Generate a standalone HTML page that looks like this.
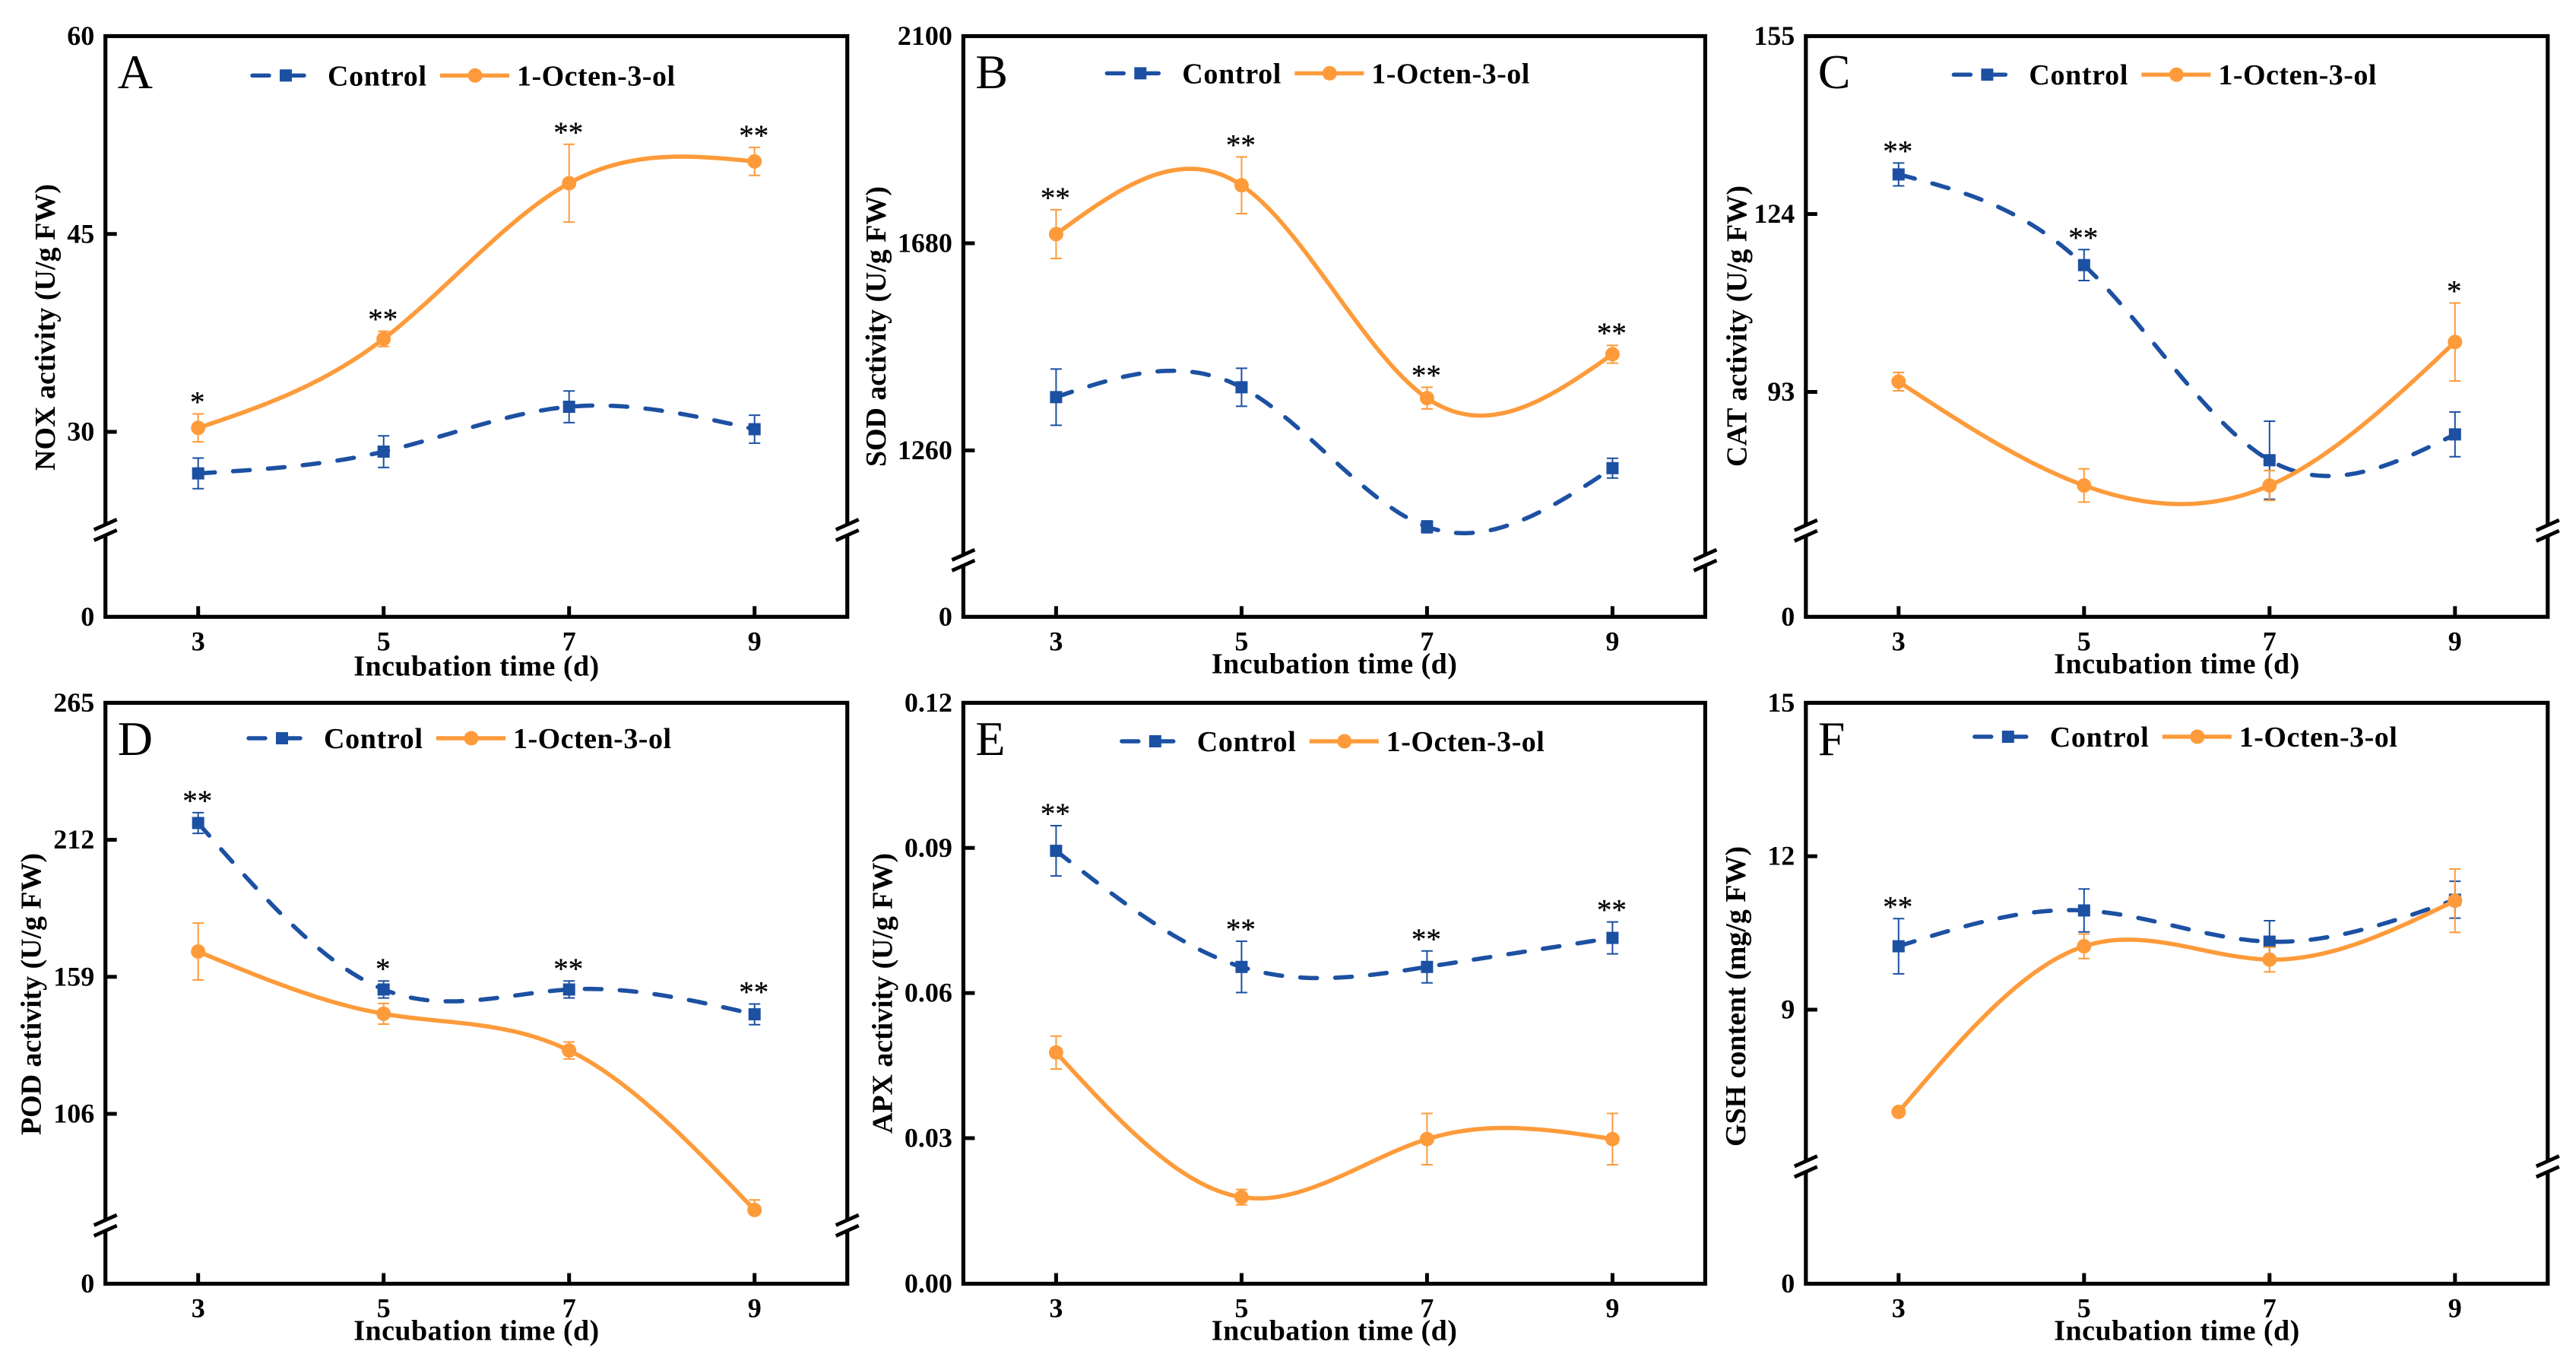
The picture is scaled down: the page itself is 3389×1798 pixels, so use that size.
<!DOCTYPE html>
<html lang="en">
<head>
<meta charset="utf-8">
<title>Antioxidant enzyme activity over incubation time</title>
<style>
html,body{margin:0;padding:0;background:#fff;}
svg{display:block;}
text{font-family:"Liberation Serif","Times New Roman",serif;fill:#000;}
</style>
</head>
<body>
<svg id="figure" xmlns="http://www.w3.org/2000/svg" width="3389" height="1798" viewBox="0 0 3389 1798"></svg>
<script>
const categories = [3, 5, 7, 9];
const seriesNames = ["Control", "1-Octen-3-ol"];

const noxTicks = [60, 45, 30, 0];
const noxControl = [26.85, 28.5, 31.9, 30.2];
const noxControlErr = [1.16, 1.2, 1.2, 1.06];
const noxOctenol = [30.3, 37.05, 48.85, 50.5];
const noxOctenolErr = [1.06, 0.58, 2.95, 1.06];
const noxStars = ["*", "**", "**", "**"];

const sodTicks = [2100, 1680, 1260, 0];
const sodControl = [1368, 1388, 1105, 1224];
const sodControlErr = [57, 38.5, 12, 20];
const sodOctenol = [1698.5, 1797.6, 1366, 1455];
const sodOctenolErr = [49.5, 57.5, 22, 18];
const sodStars = ["**", "**", "**", "**"];

const catTicks = [155, 124, 93, 0];
const catControl = [130.9, 115.1, 81.1, 85.6];
const catControlErr = [2, 2.7, 6.8, 3.9];
const catOctenol = [94.8, 76.7, 76.7, 101.7];
const catOctenolErr = [1.6, 2.9, 2.6, 6.8];
const catStars = ["**", "**", "", "*"];

const podTicks = [265, 212, 159, 106, 0];
const podControl = [218.5, 154.1, 154.1, 144.5];
const podControlErr = [4, 3.3, 3.3, 4];
const podOctenol = [168.8, 144.7, 130.5, 68.8];
const podOctenolErr = [11, 4, 3.3, 3.9];
const podOctenolLowerErr = [11, 4, 3.3, 0];
const podStars = ["**", "*", "**", "**"];

const apxTicks = ["0.12", "0.09", "0.06", "0.03", "0.00"];
const apxControl = [0.0894, 0.0654, 0.0654, 0.0714];
const apxControlErr = [0.0052, 0.0053, 0.0033, 0.0033];
const apxOctenol = [0.0477, 0.0178, 0.0298, 0.0298];
const apxOctenolErr = [0.0034, 0.0016, 0.0053, 0.0053];
const apxStars = ["**", "**", "**", "**"];

const gshTicks = [15, 12, 9, 0];
const gshControl = [10.24, 10.94, 10.33, 11.15];
const gshControlErr = [0.54, 0.42, 0.41, 0.36];
const gshOctenol = [7.0, 10.24, 9.98, 11.13];
const gshOctenolErr = [0.05, 0.24, 0.24, 0.62];
const gshStars = ["**", "", "", ""];

const BLUE = "#1c50a2", ORANGE = "#fd9b3b";
const NS = "http://www.w3.org/2000/svg";
const figure = document.getElementById("figure");

function make(parent, tag, attrs, content) {
  const node = document.createElementNS(NS, tag);
  for (const k in attrs) node.setAttribute(k, attrs[k]);
  if (content !== undefined) node.textContent = content;
  parent.appendChild(node);
  return node;
}

/* natural cubic spline through the data values, evaluated on a uniform grid */
function splinePath(xs, ys) {
  const n = xs.length, m = new Array(n).fill(0);
  const h = xs.map((x, i) => i < n - 1 ? xs[i + 1] - x : 0);
  const a = new Array(n).fill(0), b = new Array(n).fill(1), c = new Array(n).fill(0), d = new Array(n).fill(0);
  for (let i = 1; i < n - 1; i++) {
    a[i] = h[i - 1]; b[i] = 2 * (h[i - 1] + h[i]); c[i] = h[i];
    d[i] = 6 * ((ys[i + 1] - ys[i]) / h[i] - (ys[i] - ys[i - 1]) / h[i - 1]);
  }
  for (let i = 1; i < n; i++) {
    const w = a[i] / b[i - 1];
    b[i] -= w * c[i - 1]; d[i] -= w * d[i - 1];
  }
  m[n - 1] = d[n - 1] / b[n - 1];
  for (let i = n - 2; i >= 0; i--) m[i] = (d[i] - c[i] * m[i + 1]) / b[i];
  let path = "M" + xs[0].toFixed(1) + " " + ys[0].toFixed(1);
  for (let i = 0; i < n - 1; i++) {
    for (let s = 1; s <= 30; s++) {
      const t = s / 30, A = 1 - t, B = t;
      const y = A * ys[i] + B * ys[i + 1] + ((A * A * A - A) * m[i] + (B * B * B - B) * m[i + 1]) * h[i] * h[i] / 6;
      path += "L" + (xs[i] + t * h[i]).toFixed(1) + " " + y.toFixed(1);
    }
  }
  return path;
}

function drawSeries(group, color, dashed, xs, yScale, vals, errs, lowerErrs, isSquare) {
  const pts = vals.map(yScale);
  const line = make(group, "path", {d: splinePath(xs, pts), fill: "none", stroke: color, "stroke-width": 5.6,
    "stroke-linecap": dashed ? "round" : "butt", "stroke-linejoin": "round"});
  if (dashed) line.setAttribute("stroke-dasharray", "22 24");
  
  
  vals.forEach((v, i) => {
    const up = yScale(v + errs[i]), dn = yScale(v - lowerErrs[i]), x = xs[i];
    let capPath = `M${x} ${up}V${dn}M${x - 7.5} ${up}h15`;
    if (lowerErrs[i] > 0) capPath += `M${x - 7.5} ${dn}h15`;
    const err = make(group, "path", {d: capPath, fill: "none", stroke: color, "stroke-width": 2});
    
    
    let mark;
    if (isSquare) {
      mark = make(group, "rect", {x: x - 8, y: pts[i] - 8, width: 16, height: 16, fill: color});
    } else {
      mark = make(group, "circle", {cx: x, cy: pts[i], r: 9.5, fill: color});
    }
    
    
  });
}

function drawPanel(p) {
  const g = make(figure, "g", {});
  
  
  const unitX = 122, right = p.left + 976;
  const xScale = v => p.left + (v - 2) * unitX;
  const yScale = v => p.top + (p.domainTop - v) * (p.refY - p.top) / (p.domainTop - p.refV);
  const tickY = v => Number(v) === 0 ? p.bottom : yScale(Number(v));
  const xs = categories.map(xScale);

  const frame = make(g, "rect", {x: p.left, y: p.top, width: 976, height: p.bottom - p.top, fill: "none", stroke: "#000", "stroke-width": 5.2});
  
  

  p.ticks.forEach(t => {
    const y = tickY(t);
    if (y > p.top + 1 && y < p.bottom - 1) {
      const tm = make(g, "line", {x1: p.left, x2: p.left + 15, y1: y, y2: y, stroke: "#000", "stroke-width": 5});
      
      
    }
    const lb = make(g, "text", {x: p.left - 14.5, y: y + 11.5, "text-anchor": "end", "font-size": 36, "font-weight": "bold"}, String(t));
    
    
  });

  categories.forEach(c => {
    const x = xScale(c);
    const tm = make(g, "line", {x1: x, x2: x, y1: p.bottom, y2: p.bottom - 14, stroke: "#000", "stroke-width": 5});
    
    
    const lb = make(g, "text", {x: x, y: p.bottom + 44, "text-anchor": "middle", "font-size": 36, "font-weight": "bold"}, String(c));
    
    
  });

  if (p.breakY) {
    [p.left, right].forEach(ax => {
      const cut = make(g, "rect", {x: ax - 4, y: p.breakY - 6.5, width: 8, height: 13, fill: "#fff"});
      
      
      const mk = make(g, "path", {d: `M${ax - 15} ${p.breakY - 0}L${ax + 15} ${p.breakY - 13.4}M${ax - 15} ${p.breakY + 14}L${ax + 15} ${p.breakY + 0.6}`, fill: "none", stroke: "#000", "stroke-width": 4.8});
      
      
    });
  }

  const title = make(g, "text", {x: (p.left + right) / 2, y: p.bottom + p.xTitleOffset, "text-anchor": "middle", "font-size": 38, "font-weight": "bold", textLength: 323, lengthAdjust: "spacing"}, "Incubation time (d)");
  
  

  const yt = make(g, "text", {x: p.yTitleX, y: p.yTitleY, "text-anchor": "middle", "font-size": 38, "font-weight": "bold", textLength: p.yTitleLen, lengthAdjust: "spacing", transform: `rotate(-90 ${p.yTitleX} ${p.yTitleY})`}, p.yTitle);
  
  

  const letter = make(g, "text", {x: p.left + 16, y: p.top + 68.5, "font-size": 64}, p.letter);
  
  

  drawSeries(g, BLUE, true, xs, yScale, p.control, p.controlErr, p.controlErr, true);
  drawSeries(g, ORANGE, false, xs, yScale, p.octenol, p.octenolErr, p.octenolLowerErr || p.octenolErr, false);

  p.stars.forEach((s, i) => {
    if (!s) return;
    const hi = Math.max(p.control[i] + p.controlErr[i], p.octenol[i] + p.octenolErr[i]);
    const st = make(g, "text", {x: xs[i] - 1, y: yScale(hi) - 3, "text-anchor": "middle", "font-size": 39, stroke: "#000", "stroke-width": 0.3}, s);
    
    
  });

  const lg = make(g, "g", {transform: `translate(${p.legendX} ${p.legendY})`});
  
  
  const l1 = make(lg, "line", {x1: 2, x2: 73, y1: 0, y2: 0, stroke: BLUE, "stroke-width": 5.4, "stroke-linecap": "round", "stroke-dasharray": "22 24"});
  
  
  const m1 = make(lg, "rect", {x: 38, y: -8, width: 16, height: 16, fill: BLUE});
  
  
  const t1 = make(lg, "text", {x: 101, y: 13, "font-size": 38, "font-weight": "bold", textLength: 130, lengthAdjust: "spacing"}, seriesNames[0]);
  
  
  const l2 = make(lg, "line", {x1: 249, x2: 340, y1: 0, y2: 0, stroke: ORANGE, "stroke-width": 5.4});
  
  
  const m2 = make(lg, "circle", {cx: 295, cy: 0, r: 9.5, fill: ORANGE});
  
  
  const t2 = make(lg, "text", {x: 350, y: 13, "font-size": 38, "font-weight": "bold", textLength: 208, lengthAdjust: "spacing"}, seriesNames[1]);
  
  
}

const rowTop = {t1: 47.5, b1: 811.3, t2: 924.4, b2: 1688.5};
const colLeft = [138.7, 1267.4, 2375.8];

drawPanel({letter: "A", yTitle: "NOX activity (U/g FW)", left: colLeft[0], top: rowTop.t1, bottom: rowTop.b1,
  domainTop: 60, refV: 30, refY: 568, breakY: 696.7, ticks: noxTicks,
  control: noxControl, controlErr: noxControlErr, octenol: noxOctenol, octenolErr: noxOctenolErr, stars: noxStars,
  xTitleOffset: 77, yTitleX: 72, yTitleY: 430.5, yTitleLen: 377, legendX: 330, legendY: 99.3});
drawPanel({letter: "B", yTitle: "SOD activity (U/g FW)", left: colLeft[1], top: rowTop.t1, bottom: rowTop.b1,
  domainTop: 2100, refV: 1260, refY: 592.4, breakY: 736.5, ticks: sodTicks,
  control: sodControl, controlErr: sodControlErr, octenol: sodOctenol, octenolErr: sodOctenolErr, stars: sodStars,
  xTitleOffset: 74, yTitleX: 1165, yTitleY: 429.5, yTitleLen: 369, legendX: 1454.3, legendY: 96.4});
drawPanel({letter: "C", yTitle: "CAT activity (U/g FW)", left: colLeft[2], top: rowTop.t1, bottom: rowTop.b1,
  domainTop: 155, refV: 93, refY: 515.5, breakY: 697.5, ticks: catTicks,
  control: catControl, controlErr: catControlErr, octenol: catOctenol, octenolErr: catOctenolErr, stars: catStars,
  xTitleOffset: 74, yTitleX: 2297.5, yTitleY: 429, yTitleLen: 370, legendX: 2568.4, legendY: 98.2});
drawPanel({letter: "D", yTitle: "POD activity (U/g FW)", left: colLeft[0], top: rowTop.t2, bottom: rowTop.b2,
  domainTop: 265, refV: 106, refY: 1465, breakY: 1611.5, ticks: podTicks,
  control: podControl, controlErr: podControlErr, octenol: podOctenol, octenolErr: podOctenolErr, octenolLowerErr: podOctenolLowerErr, stars: podStars,
  xTitleOffset: 74, yTitleX: 53.5, yTitleY: 1307.5, yTitleLen: 371, legendX: 325, legendY: 971});
drawPanel({letter: "E", yTitle: "APX activity (U/g FW)", left: colLeft[1], top: rowTop.t2, bottom: rowTop.b2,
  domainTop: 0.12, refV: 0.03, refY: 1497, breakY: 0, ticks: apxTicks,
  control: apxControl, controlErr: apxControlErr, octenol: apxOctenol, octenolErr: apxOctenolErr, stars: apxStars,
  xTitleOffset: 74, yTitleX: 1173.4, yTitleY: 1306.5, yTitleLen: 369, legendX: 1473.8, legendY: 975});
drawPanel({letter: "F", yTitle: "GSH content (mg/g FW)", left: colLeft[2], top: rowTop.t2, bottom: rowTop.b2,
  domainTop: 15, refV: 9, refY: 1328, breakY: 1534, ticks: gshTicks,
  control: gshControl, controlErr: gshControlErr, octenol: gshOctenol, octenolErr: gshOctenolErr, stars: gshStars,
  xTitleOffset: 74, yTitleX: 2296, yTitleY: 1310.5, yTitleLen: 395, legendX: 2595.8, legendY: 969});
</script>
</body>
</html>
